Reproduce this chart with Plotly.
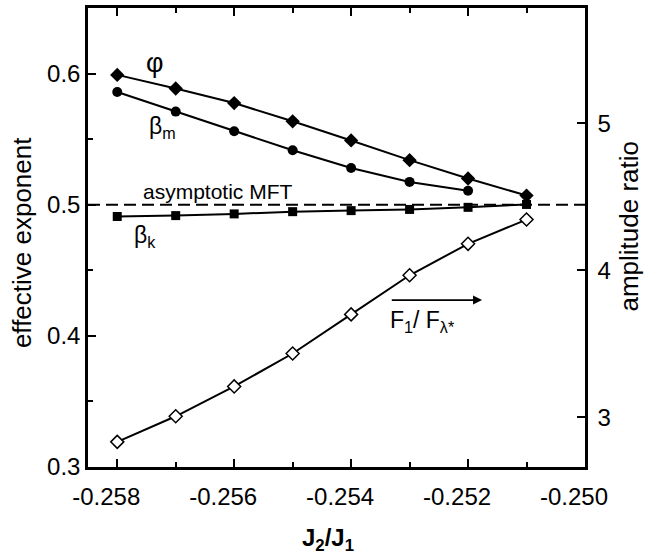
import plotly.graph_objects as go

x_vals = [-0.258, -0.257, -0.256, -0.255, -0.254, -0.253, -0.252, -0.251]
phi = [0.599, 0.5886, 0.5775, 0.5636, 0.549, 0.534, 0.520, 0.507]
beta_m = [0.586, 0.571, 0.556, 0.5415, 0.528, 0.5174, 0.5106]
beta_k = [0.491, 0.4917, 0.493, 0.4947, 0.4955, 0.4964, 0.498, 0.5002]
amp_ratio = [2.833, 3.007, 3.21, 3.434, 3.70, 3.966, 4.18, 4.345]

x_ticks = [-0.258, -0.256, -0.254, -0.252, -0.250]
x_ticktext = ["-0.258", "-0.256", "-0.254", "-0.252", "-0.250"]
y_ticks = [0.3, 0.4, 0.5, 0.6]
y_ticktext = ["0.3", "0.4", "0.5", "0.6"]
y2_ticks = [3, 4, 5]
y2_ticktext = ["3", "4", "5"]
mft_level = 0.5

FONT = "Liberation Sans, Arial, sans-serif"
line = dict(color="black", width=2)

fig = go.Figure()
fig.add_trace(go.Scatter(x=x_vals, y=phi, mode="lines+markers", line=line,
                         marker=dict(symbol="diamond", size=11, color="black")))
fig.add_trace(go.Scatter(x=x_vals[:len(beta_m)], y=beta_m, mode="lines+markers", line=line,
                         marker=dict(symbol="circle", size=10, color="black")))
fig.add_trace(go.Scatter(x=x_vals, y=beta_k, mode="lines+markers", line=line,
                         marker=dict(symbol="square", size=9, color="black")))
fig.add_trace(go.Scatter(x=x_vals, y=amp_ratio, mode="lines+markers", line=line, yaxis="y2",
                         marker=dict(symbol="diamond", size=10, color="white",
                                     line=dict(color="black", width=1.5))))

fig.add_shape(type="line", xref="paper", yref="y", x0=0, x1=1, y0=mft_level, y1=mft_level,
              line=dict(color="black", width=2, dash="12px,6px"), layer="below")

axis_common = dict(showline=True, linecolor="black", linewidth=2.5, ticks="inside",
                   tickcolor="black", tickwidth=2, ticklen=8, showgrid=False, zeroline=False,
                   tickfont=dict(family=FONT, size=24, color="black"))

fig.update_layout(
    width=649, height=555,
    margin=dict(l=88, r=64, t=5, b=88),
    plot_bgcolor="white", paper_bgcolor="white",
    showlegend=False,
    xaxis=dict(range=[-0.2585, -0.250], tickvals=x_ticks, ticktext=x_ticktext,
               mirror="ticks", ticklabelshift=-11, ticklabelstandoff=6,
               minor=dict(dtick=0.001, tick0=-0.258, ticks="inside", ticklen=5,
                          tickwidth=2, tickcolor="black"),
               **axis_common),
    yaxis=dict(range=[0.3, 0.65], tickvals=y_ticks, ticktext=y_ticktext,
               minor=dict(dtick=0.05, tick0=0.3, ticks="inside", ticklen=5,
                          tickwidth=2, tickcolor="black"),
               **axis_common),
    yaxis2=dict(range=[2.662, 5.784], tickvals=y2_ticks, ticktext=y2_ticktext,
                overlaying="y", side="right", ticklabelstandoff=5, **axis_common),
)

ann_font = dict(family=FONT, size=23, color="black")
c = dict(xanchor="center", yanchor="middle", showarrow=False)
fig.add_annotation(x=-0.25735, y=0.608, text="φ", font=dict(family=FONT, size=27, color="black"), **c)
fig.add_annotation(x=-0.25722, y=0.559, text="β<sub>m</sub>", font=ann_font, **c)
fig.add_annotation(x=-0.25627, y=0.5098, text="asymptotic MFT",
                   font=dict(family=FONT, size=21, color="black"), **c)
fig.add_annotation(x=-0.25752, y=0.476, text="β<sub>k</sub>", font=ann_font, **c)
fig.add_annotation(x=-0.25176, y=0.4273, ax=-0.25333, ay=0.4273, axref="x", ayref="y",
                   xref="x", yref="y", text="", showarrow=True, arrowhead=2,
                   arrowsize=1, arrowwidth=1.8, arrowcolor="black")
fig.add_annotation(x=-0.25278, y=0.411, text="F<sub>1</sub>/ F<sub>λ*</sub>", font=ann_font, **c)

fig.add_annotation(xref="paper", yref="paper", x=-0.1328, y=0.49, text="effective exponent",
                   textangle=-90, font=dict(family=FONT, size=26, color="black"), **c)
fig.add_annotation(xref="paper", yref="paper", x=1.0885, y=0.526, text="amplitude ratio",
                   textangle=-90, font=dict(family=FONT, size=26, color="black"), **c)
fig.add_annotation(xref="paper", yref="paper", x=0.483, y=-0.158,
                   text="<b>J<sub>2</sub>/J<sub>1</sub></b>",
                   font=dict(family=FONT, size=24, color="black"), **c)

fig.write_html("out.html")
